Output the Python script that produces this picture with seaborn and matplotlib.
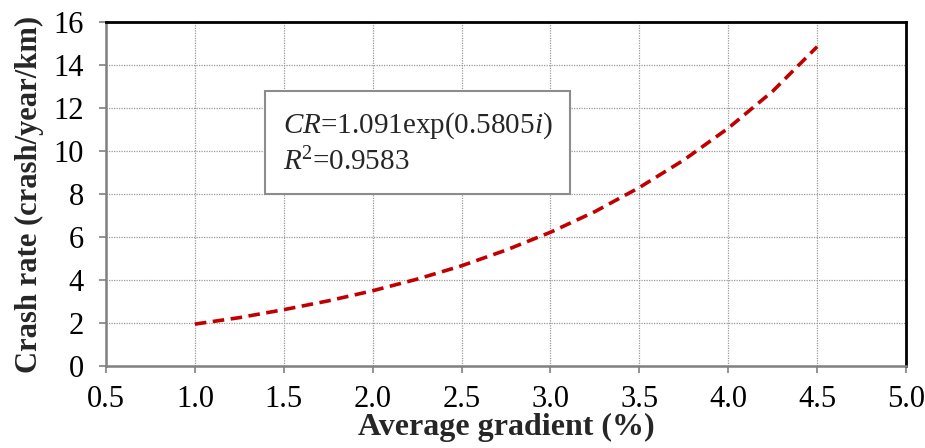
import pandas as pd
import matplotlib.pyplot as plt
import seaborn as sns

sns.set_theme(style="ticks")
plt.rcParams['font.family'] = ['Liberation Serif', 'DejaVu Serif']
plt.rcParams['mathtext.fontset'] = 'custom'
plt.rcParams['mathtext.rm'] = 'Liberation Serif'
plt.rcParams['mathtext.it'] = 'Liberation Serif:italic'
size = 22

# values
gradient = [1.0, 1.25, 1.5, 1.75, 2.0, 2.25, 2.5, 2.75, 3.0, 3.25, 3.5, 3.75, 4.0, 4.25, 4.5]
crash_rate = [1.95, 2.25, 2.62, 3.03, 3.50, 4.04, 4.66, 5.39, 6.22, 7.18, 8.30, 9.58, 11.06, 12.78, 14.85]
xticks_list = [0.5, 1.0, 1.5, 2.0, 2.5, 3.0, 3.5, 4.0, 4.5, 5.0]
yticks_list = [0, 2, 4, 6, 8, 10, 12, 14, 16]

data = pd.DataFrame({"Average gradient": gradient, "Crash rate": crash_rate})

fig, ax = plt.subplots(figsize=(9.25, 4.48), dpi=100)
fig.subplots_adjust(left=0.1146, right=0.9795, top=0.951, bottom=0.183)

f = sns.lineplot(x="Average gradient", y="Crash rate", data=data, ax=ax,
                 color="#C00000", linewidth=2.6, linestyle=(0, (3.2, 1.8)))

f.set_xlim(0.5, 5.0)
f.set_ylim(0, 16)
f.set_xticks(xticks_list)
f.set_xticklabels(["{:.1f}".format(v) for v in xticks_list])
f.set_yticks(yticks_list)
f.grid(True, linestyle=(0, (1, 1)), color="#9a9a9a", linewidth=0.9)
f.tick_params(labelsize=size, colors="#808080", labelcolor="black", length=5, width=1.2, direction="out")
f.tick_params(axis="x", pad=9)
f.tick_params(axis="y", pad=11)
for side in ["left", "bottom"]:
    ax.spines[side].set_color("#808080")
    ax.spines[side].set_linewidth(1.8)
for side in ["top", "right"]:
    ax.spines[side].set_visible(True)
    ax.spines[side].set_color("black")
    ax.spines[side].set_linewidth(2.0)

f.set_xlabel("Average gradient (%)", fontsize=23, fontweight="bold", labelpad=-1)
f.set_ylabel("Crash rate (crash/year/km)", fontsize=22, fontweight="bold", labelpad=7)

ax.text(1.495, 10.35, r"$\it{CR}$=1.091exp(0.5805$\it{i}$)" + "\n" + r"$\it{R}$$^2$=0.9583",
        fontsize=21, va="center", ha="left", linespacing=1.3,
        bbox=dict(boxstyle="square,pad=0.6", facecolor="white", edgecolor="#8c8c8c", linewidth=1.5))

plt.savefig("out.png", dpi=100)
